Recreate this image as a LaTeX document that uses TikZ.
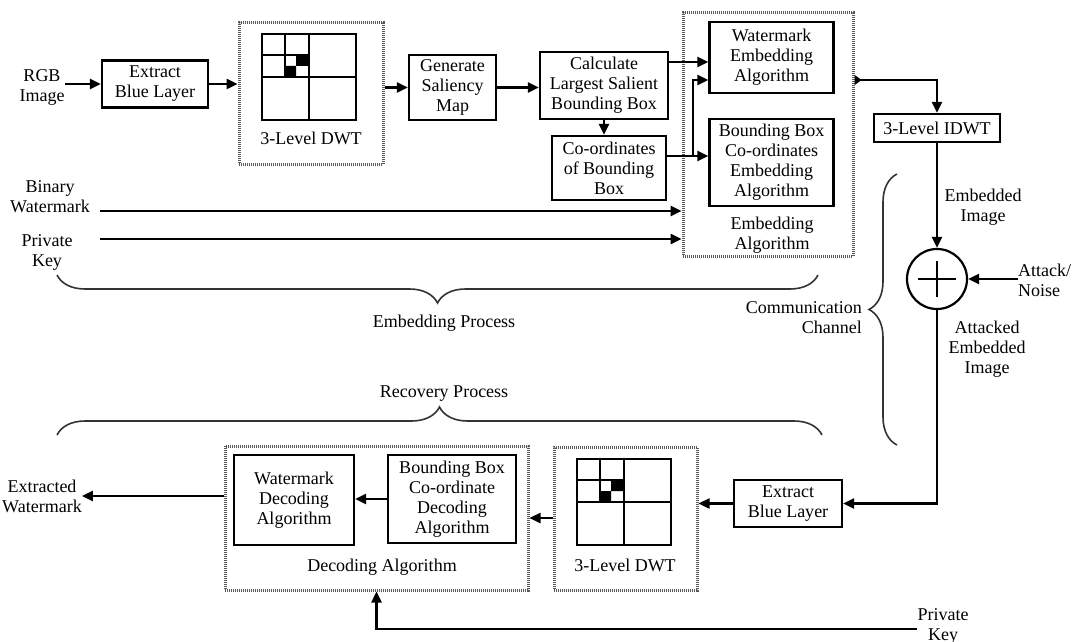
\documentclass[tikz,border=0pt]{standalone}
\usepackage{fontspec}
\setmainfont{Liberation Serif}
\usetikzlibrary{arrows.meta,decorations.pathreplacing}

\begin{document}
\begin{tikzpicture}[x=1pt,y=-1pt,
        every node/.style={font=\fontsize{18}{20}\selectfont, align=center, inner sep=0pt},
        blk/.style 2 args={draw, line width=2.2pt, minimum width=#1, minimum height=#2},
        frm/.style 2 args={draw=black!65, line width=3pt, dash pattern=on 1pt off 1pt,
                           minimum width=#1, minimum height=#2},
        arr/.style={line width=2.4pt, -{Triangle[length=11pt,width=10pt]}},
        brc/.style={decorate, decoration={brace,amplitude=28pt}, line width=1.6pt, black!80},
        dwtgrid/.pic={
          \fill (34,21) rectangle (47,32) (23,32) rectangle (34,43);
          \draw[line width=2.2pt] (0,0) rectangle (94,86) (47,0) -- (47,86) (0,43) -- (94,43)
                                  (23,0) -- (23,43) (0,21) -- (47,21);
        }]
        \useasboundingbox (0,0) rectangle (1074,642);
        % embedding row
        \node (rgb) at (42,87.5) {RGB\\Image};
        \node[blk={106}{47}] (ebl1) at (155,84) {Extract\\Blue Layer};
        \node[frm={144}{141}] (dwt1) at (311,93.5) {};
        \pic at (262,34) {dwtgrid};
        \node (dwt1lab) at (311,138) {3-Level DWT};
        \node[blk={87}{65}] (gsm) at (452.5,87.5) {Generate\\Saliency\\Map};
        \node[blk={128}{67}] (calc) at (604,85.5) {Calculate\\Largest Salient\\Bounding Box};
        \node[blk={114}{64}] (coord) at (609,168) {Co-ordinates\\of Bounding\\Box};
        \node[frm={170}{243}] (embfr) at (768,134.5) {};
        \node[blk={124}{71}] (wme) at (771.5,57.5) {Watermark\\Embedding\\Algorithm};
        \node[blk={124}{87}] (bbe) at (771.5,162.5) {Bounding Box\\Co-ordinates\\Embedding\\Algorithm};
        \node (embfrlab) at (772,235) {Embedding\\Algorithm};
        \node (binwm) at (50,196.5) {Binary\\Watermark};
        \node (pkey1) at (47,252.5) {Private\\Key};
        \coordinate (bw) at (100,211);
        \coordinate (pk) at (100,239);
        \coordinate (j1) at (693,156);
        \coordinate (j2) at (693,80);
        % channel
        \node[blk={126}{28}] (idwt) at (937,128) {3-Level IDWT};
        \node[draw, circle, line width=2.2pt, minimum size=60] (plus) at (937,279) {};
        \draw[line width=2.2pt] (plus.center) ++(-19,0) -- ++(38,0)
                                (plus.center) ++(0,-18) -- ++(0,36);
        \node (embimg) at (983,207) {Embedded\\Image};
        \node[anchor=west, align=left] (attack) at (1018,280) {Attack/\\Noise};
        \node (attimg) at (987,349) {Attacked\\Embedded\\Image};
        \node[anchor=east, align=right] (comm) at (862,318) {Communication\\Channel};
        % recovery row
        \node[blk={108}{47}] (ebl2) at (788,503.5) {Extract\\Blue Layer};
        \node[frm={143}{143}] (dwt2) at (625.5,518.5) {};
        \pic at (577,459) {dwtgrid};
        \node (dwt2lab) at (625,565) {3-Level DWT};
        \node[frm={303}{144}] (decfr) at (376.5,518) {};
        \node[blk={120}{90}] (wmd) at (294,500) {Watermark\\Decoding\\Algorithm};
        \node[blk={128}{88}] (bbd) at (452,499) {Bounding Box\\Co-ordinate\\Decoding\\Algorithm};
        \node (decfrlab) at (382,567) {Decoding Algorithm};
        \node (extr) at (42,496) {Extracted\\Watermark};
        \node (pkey2) at (943,626) {Private\\Key};
        % process labels
        \node (embproc) at (444,323) {Embedding Process};
        \node (recproc) at (444,394) {Recovery Process};
        % connectors
        \draw[arr] (rgb.east |- ebl1.west) -- (ebl1.west);
        \draw[arr] (ebl1.east) -- (ebl1.east -| dwt1.west);
        \draw[arr] (dwt1.east |- gsm.west) -- (gsm.west);
        \draw[arr] (gsm.east) -- (gsm.east -| calc.west);
        \draw[arr] (calc.south) -- (calc.south |- coord.north);
        \draw[arr] (calc.east |- 0,62) -- (wme.west |- 0,62);
        \draw[arr] (coord.east |- j1) -- (j1 -| bbe.west);
        \draw[arr] (j1) |- (j2 -| wme.west);
        \draw[arr] (bw) -- (bw -| embfr.west);
        \draw[arr] (pk) -- (pk -| embfr.west);
        \draw[line width=2.4pt, {Triangle[reversed,length=7pt,width=10pt]}-{Triangle[length=11pt,width=10pt]}]
              (embfr.east |- j2) -| (idwt.north);
        \draw[arr] (idwt.south) -- (plus.north);
        \draw[arr] (attack.west |- plus.east) -- (plus.east);
        \draw[arr] (plus.south) |- (ebl2.east);
        \draw[arr] (ebl2.west) -- (ebl2.west -| dwt2.east);
        \draw[arr] (dwt2.west |- decfr.east) -- (decfr.east);
        \draw[arr] (bbd.west) -- (bbd.west -| wmd.east);
        \draw[arr] (decfr.west |- extr.east) -- (extr.east);
        \draw[arr] (pkey2.west |- 0,629) -| (decfr.south);
        % braces
        \draw[brc] (818,275) -- (57,275);
        \draw[brc] (57,435) -- (822,435);
        \draw[brc] (897,445) -- (897,174);
      \end{tikzpicture}
\end{document}
